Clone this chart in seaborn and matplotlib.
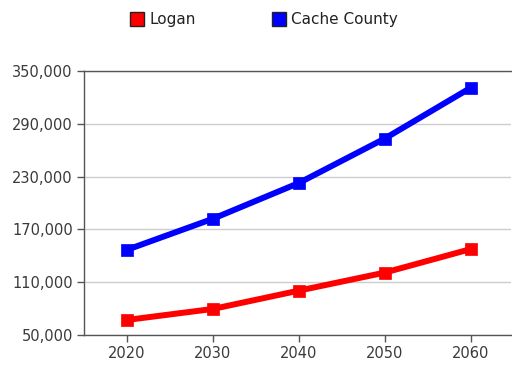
import matplotlib
matplotlib.use("Agg")
import matplotlib.pyplot as plt
from matplotlib.lines import Line2D
from matplotlib.ticker import FuncFormatter
import pandas as pd
import seaborn as sns

# Population projections by decade
years = [2020, 2030, 2040, 2050, 2060]
logan = [67100, 79600, 100400, 120900, 147600]
cache_county = [146800, 182100, 222700, 273200, 330900]
series_names = ["Logan", "Cache County"]
series_colors = ["#ff0000", "#0000ff"]
y_ticks = [50000, 110000, 170000, 230000, 290000, 350000]

df = pd.DataFrame({
    "Year": years * 2,
    "Population": logan + cache_county,
    "Area": [series_names[0]] * len(years) + [series_names[1]] * len(years),
})

sns.set_theme(style="white")
plt.rcParams["font.family"] = ["DejaVu Sans"]

fig = plt.figure(figsize=(5.12, 3.68), dpi=100)
ax = fig.add_axes([84 / 512, 33 / 368, 427 / 512, 264 / 368])

palette = dict(zip(series_names, series_colors))
sns.lineplot(
    data=df, x="Year", y="Population", hue="Area", palette=palette,
    marker="s", markersize=8, linewidth=4.3, legend=False, ax=ax, zorder=3,
)
# square markers without the default white rim
for line, c in zip(ax.get_lines(), series_colors):
    line.set_markeredgecolor(c)
    line.set_markerfacecolor(c)
    line.set_markeredgewidth(0.5)

ax.set_xlim(2015, 2064.7)
ax.set_ylim(50000, 350000)
ax.set_xticks(years)
ax.set_yticks(y_ticks)
ax.yaxis.set_major_formatter(FuncFormatter(lambda v, _: f"{int(v):,}"))
ax.set_xlabel("")
ax.set_ylabel("")

ax.yaxis.grid(True, color="#cccccc", linewidth=1)
ax.set_axisbelow(True)
for side in ["left", "bottom", "top"]:
    ax.spines[side].set_visible(True)
    ax.spines[side].set_color("#555555")
    ax.spines[side].set_linewidth(1)
ax.spines["right"].set_visible(False)

ax.tick_params(axis="both", which="major", direction="out", length=5,
               width=1, color="#555555", labelcolor="#3a3a3a", labelsize=10.5,
               left=True, bottom=True, pad=3)

handles = [
    Line2D([], [], linestyle="none", marker="s", markersize=9.5,
           markerfacecolor=c, markeredgecolor="#222222", markeredgewidth=1)
    for c in series_colors
]
fig.legend(handles, series_names, loc="upper center", ncol=2,
           bbox_to_anchor=(0.516, 1.004), frameon=False, fontsize=11,
           handletextpad=0.35, columnspacing=5.0, handlelength=0.9,
           labelcolor="#222222")

fig.savefig("out.png", dpi=100)
